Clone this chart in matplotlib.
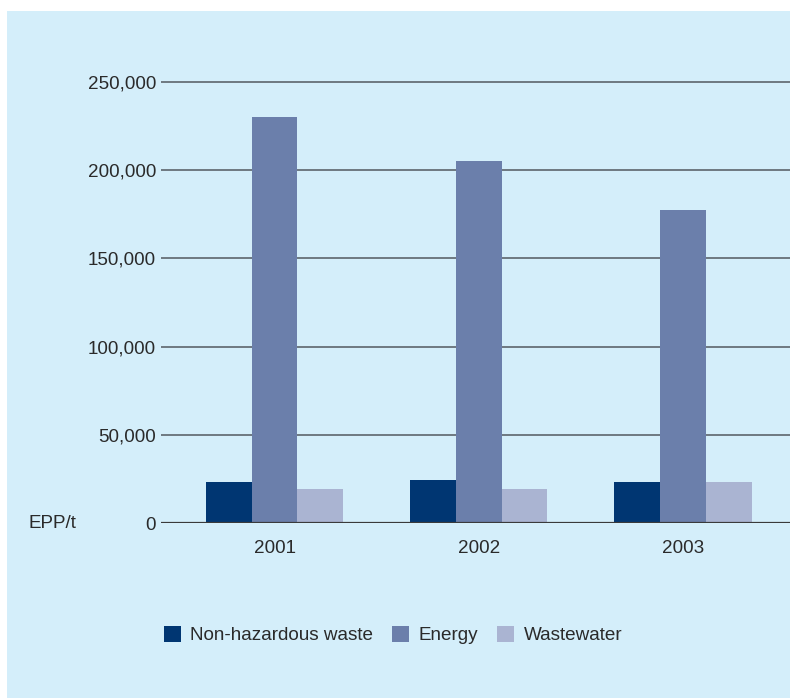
import matplotlib.pyplot as plt
import numpy as np
from matplotlib.patches import Rectangle
from matplotlib.ticker import FuncFormatter

years = ["2001", "2002", "2003"]
series_names = ["Non-hazardous waste", "Energy", "Wastewater"]
non_hazardous = [23200, 24400, 23200]
energy = [230000, 205000, 177500]
wastewater = [19300, 19300, 23200]
y_ticks = [0, 50000, 100000, 150000, 200000, 250000]

colors = ["#003672", "#6b7fab", "#aab4d2"]
bg = "#d4eefa"
text_color = "#2a2a2a"

plt.rcParams['font.family'] = ['Liberation Sans', 'DejaVu Sans']
plt.rcParams['font.size'] = 13.6

fig = plt.figure(figsize=(7.9, 6.98), dpi=100, facecolor="white")
# light blue panel, white strip on top and left
fig.patches.append(Rectangle((7 / 790, 0), 1, 1 - 11 / 698, transform=fig.transFigure,
                             facecolor=bg, edgecolor="none", zorder=-10))

ax = fig.add_axes([161 / 790, 175 / 698, 629 / 790, 449.8 / 698])
ax.set_facecolor("none")

x = np.arange(len(years))
width = 0.2237
for i, (vals, name) in enumerate(zip([non_hazardous, energy, wastewater], series_names)):
    ax.bar(x + (i - 1) * width, vals, width, color=colors[i], label=name, zorder=3)

ax.set_xlim(-0.556, 2.524)
ax.set_ylim(0, 255000)
ax.set_yticks(y_ticks)
ax.yaxis.set_major_formatter(FuncFormatter(lambda v, p: f"{int(v):,}"))
for t in y_ticks[1:]:
    ax.axhline(t, color="#6e7880", lw=1.4, zorder=1)
ax.axhline(0, color="#3a3a3a", lw=1.6, zorder=4)

ax.set_xticks(x)
ax.set_xticklabels(years)
ax.tick_params(axis="y", length=0, pad=3.6, colors=text_color)
ax.tick_params(axis="x", length=0, pad=12, colors=text_color)
for s in ax.spines.values():
    s.set_visible(False)

fig.text(29 / 790, 1 - 524 / 698, "EPP/t", ha="left", va="center", color=text_color)

leg = fig.legend(loc="center", bbox_to_anchor=(393 / 790, 1 - 635 / 698), ncol=3, frameon=False,
                 handlelength=0.9, handleheight=0.9, handletextpad=0.5, columnspacing=1.0)
for t in leg.get_texts():
    t.set_color(text_color)

fig.savefig("out.png", dpi=100, facecolor=fig.get_facecolor())
